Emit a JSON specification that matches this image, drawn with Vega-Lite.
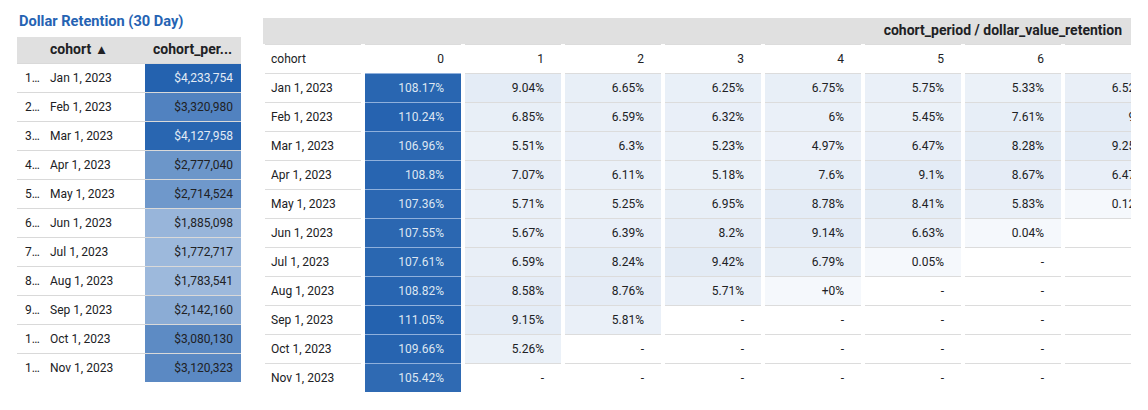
{
  "$schema": "https://vega.github.io/schema/vega-lite/v6.json",
  "background": "white",
  "padding": {"left": 17, "top": 13, "right": 17, "bottom": 5},
  "config": {
    "view": {"stroke": null},
    "font": "Roboto",
    "text": {"font": "Roboto", "fontSize": 12, "color": "#202124"},
    "concat": {"spacing": 0}
  },
  "resolve": {"scale": {"color": "independent"}},
  "datasets": {
    "dollars": [
      {"n": "1…", "c": "Jan 1, 2023", "d": 4233754},
      {"n": "2…", "c": "Feb 1, 2023", "d": 3320980},
      {"n": "3…", "c": "Mar 1, 2023", "d": 4127958},
      {"n": "4…", "c": "Apr 1, 2023", "d": 2777040},
      {"n": "5…", "c": "May 1, 2023", "d": 2714524},
      {"n": "6…", "c": "Jun 1, 2023", "d": 1885098},
      {"n": "7…", "c": "Jul 1, 2023", "d": 1772717},
      {"n": "8…", "c": "Aug 1, 2023", "d": 1783541},
      {"n": "9…", "c": "Sep 1, 2023", "d": 2142160},
      {"n": "1…", "c": "Oct 1, 2023", "d": 3080130},
      {"n": "1…", "c": "Nov 1, 2023", "d": 3120323}
    ],
    "ret": [
      {"c": "Jan 1, 2023", "0": 1.0817, "1": 0.0904, "2": 0.0665, "3": 0.0625, "4": 0.0675, "5": 0.0575, "6": 0.0533, "7": 0.0652},
      {"c": "Feb 1, 2023", "0": 1.1024, "1": 0.0685, "2": 0.0659, "3": 0.0632, "4": 0.06, "5": 0.0545, "6": 0.0761, "7": 0.09},
      {"c": "Mar 1, 2023", "0": 1.0696, "1": 0.0551, "2": 0.063, "3": 0.0523, "4": 0.0497, "5": 0.0647, "6": 0.0828, "7": 0.0925},
      {"c": "Apr 1, 2023", "0": 1.088, "1": 0.0707, "2": 0.0611, "3": 0.0518, "4": 0.076, "5": 0.091, "6": 0.0867, "7": 0.0647},
      {"c": "May 1, 2023", "0": 1.0736, "1": 0.0571, "2": 0.0525, "3": 0.0695, "4": 0.0878, "5": 0.0841, "6": 0.0583, "7": 0.0012},
      {"c": "Jun 1, 2023", "0": 1.0755, "1": 0.0567, "2": 0.0639, "3": 0.082, "4": 0.0914, "5": 0.0663, "6": 0.0004, "7": null},
      {"c": "Jul 1, 2023", "0": 1.0761, "1": 0.0659, "2": 0.0824, "3": 0.0942, "4": 0.0679, "5": 0.0005, "6": null, "7": null},
      {"c": "Aug 1, 2023", "0": 1.0882, "1": 0.0858, "2": 0.0876, "3": 0.0571, "4": 0.000001, "5": null, "6": null, "7": null},
      {"c": "Sep 1, 2023", "0": 1.1105, "1": 0.0915, "2": 0.0581, "3": null, "4": null, "5": null, "6": null, "7": null},
      {"c": "Oct 1, 2023", "0": 1.0966, "1": 0.0526, "2": null, "3": null, "4": null, "5": null, "6": null, "7": null},
      {"c": "Nov 1, 2023", "0": 1.0542, "1": null, "2": null, "3": null, "4": null, "5": null, "6": null, "7": null}
    ]
  },
  "spacing": 22,
  "hconcat": [
    {
      "spacing": 0,
      "vconcat": [
        {"width": 224, "height": 24, "view": {"fill": "white", "stroke": null},
         "data": {"values": [{"t": "Dollar Retention (30 Day)"}]},
         "mark": {"type": "text", "align": "left", "baseline": "alphabetic", "dx": 2, "dy": 1, "fontSize": 14.6, "fontWeight": "bold", "color": "#2563b3"},
         "encoding": {"x": {"field": "t", "type": "nominal", "bandPosition": 0, "scale": {"type": "band", "paddingInner": 0, "paddingOuter": 0}, "axis": null}, "text": {"field": "t"}}},
        {
          "spacing": 0,
          "hconcat": [
            {"width": 28, "height": 26, "view": {"fill": "#e0e0e0", "stroke": null}, "data": {"values": []}, "mark": "rect", "encoding": {}},
            {"width": 100, "height": 26, "view": {"fill": "#e0e0e0", "stroke": null}, "data": {"values": [{"h": "cohort\u00a0\u00a0▴"}]},
             "mark": {"type": "text", "align": "left", "dx": 5, "fontWeight": "bold", "fontSize": 14},
             "encoding": {"x": {"field": "h", "type": "nominal", "bandPosition": 0, "scale": {"type": "band", "paddingInner": 0, "paddingOuter": 0}, "axis": null}, "text": {"field": "h"}}},
            {"width": 96, "height": 26, "view": {"fill": "#e0e0e0", "stroke": null}, "data": {"values": [{"h": "cohort_per..."}]},
             "mark": {"type": "text", "align": "left", "dx": 8, "fontWeight": "bold", "fontSize": 14},
             "encoding": {"x": {"field": "h", "type": "nominal", "bandPosition": 0, "scale": {"type": "band", "paddingInner": 0, "paddingOuter": 0}, "axis": null}, "text": {"field": "h"}}}
          ]
        },
        {
          "spacing": 0,
          "hconcat": [
            {"width": 28, "height": 319, "view": {"fill": "#d9d9d9", "stroke": null}, "data": {"name": "dollars"},
             "transform": [{"fold": ["n"], "as": ["k", "lbl"]}],
             "layer": [
               {"mark": {"type": "rect", "color": "white"}, "encoding": {"y": {"field": "c", "type": "nominal", "sort": null, "scale": {"type": "band", "paddingInner": 0.0345, "paddingOuter": 0.01725, "align": 1}, "axis": null}}},
               {"mark": {"type": "text", "align": "left", "dx": 8},
                "encoding": {"x": {"field": "k", "type": "nominal", "bandPosition": 0, "scale": {"type": "band", "paddingInner": 0, "paddingOuter": 0}, "axis": null},
                             "y": {"field": "c", "type": "nominal", "sort": null, "scale": {"type": "band", "paddingInner": 0.0345, "paddingOuter": 0.01725, "align": 1}, "axis": null},
                             "text": {"field": "lbl"}}}
             ]},
            {"width": 100, "height": 319, "view": {"fill": "#d9d9d9", "stroke": null}, "data": {"name": "dollars"},
             "transform": [{"fold": ["c"], "as": ["k", "lbl"]}],
             "layer": [
               {"mark": {"type": "rect", "color": "white"}, "encoding": {"y": {"field": "c", "type": "nominal", "sort": null, "scale": {"type": "band", "paddingInner": 0.0345, "paddingOuter": 0.01725, "align": 1}, "axis": null}}},
               {"mark": {"type": "text", "align": "left", "dx": 5},
                "encoding": {"x": {"field": "k", "type": "nominal", "bandPosition": 0, "scale": {"type": "band", "paddingInner": 0, "paddingOuter": 0}, "axis": null},
                             "y": {"field": "c", "type": "nominal", "sort": null, "scale": {"type": "band", "paddingInner": 0.0345, "paddingOuter": 0.01725, "align": 1}, "axis": null},
                             "text": {"field": "lbl"}}}
             ]},
            {"width": 96, "height": 319, "view": {"fill": "#d9d9d9", "stroke": null}, "data": {"name": "dollars"},
             "transform": [{"fold": ["d"], "as": ["k", "val"]}],
             "layer": [
               {"mark": {"type": "rect"},
                "encoding": {"y": {"field": "c", "type": "nominal", "sort": null, "scale": {"type": "band", "paddingInner": 0.0345, "paddingOuter": 0.01725, "align": 1}, "axis": null},
                             "color": {"field": "d", "type": "quantitative", "scale": {"domain": [0, 4233754], "range": ["#f5f8fc", "#2462af"], "interpolate": "rgb"}, "legend": null}}},
               {"mark": {"type": "text", "align": "right", "dx": -8},
                "encoding": {"x": {"field": "k", "type": "nominal", "bandPosition": 1, "scale": {"type": "band", "paddingInner": 0, "paddingOuter": 0}, "axis": null},
                             "y": {"field": "c", "type": "nominal", "sort": null, "scale": {"type": "band", "paddingInner": 0.0345, "paddingOuter": 0.01725, "align": 1}, "axis": null},
                             "text": {"field": "d", "type": "quantitative", "format": "$,.0f"},
                             "color": {"condition": {"test": "datum.d > 3900000", "value": "#e3ebf5"}, "value": "#202124"}}}
             ]}
          ]
        }
      ]
    },
    {
      "spacing": 0,
      "vconcat": [
        {"width": 868, "height": 31, "view": {"fill": "white", "stroke": null},
         "data": {"values": [{"h": "cohort_period / dollar_value_retention"}]},
         "layer": [
           {"mark": {"type": "rect", "color": "#e0e0e0"},
            "encoding": {"y": {"field": "h", "type": "nominal", "scale": {"type": "band", "range": [5, 31], "paddingInner": 0, "paddingOuter": 0}, "axis": null}}},
           {"mark": {"type": "text", "align": "right", "dx": -9, "fontWeight": "bold", "fontSize": 14},
            "encoding": {"x": {"field": "h", "type": "nominal", "bandPosition": 1, "scale": {"type": "band", "paddingInner": 0, "paddingOuter": 0}, "axis": null},
                         "y": {"field": "h", "type": "nominal", "scale": {"type": "band", "range": [5, 31], "paddingInner": 0, "paddingOuter": 0}, "axis": null},
                         "text": {"field": "h"}}}
         ]},
        {
          "width": 868, "height": 348,
          "view": {"fill": "white", "stroke": null},
          "data": {"name": "ret"},
          "transform": [{"fold": ["c", "0", "1", "2", "3", "4", "5", "6", "7"], "as": ["p", "v"]}],
          "layer": [
            {"transform": [{"filter": "datum.c === 'Jan 1, 2023'"}],
             "mark": {"type": "rect", "clip": true, "color": "#dcdcdc"},
             "encoding": {"x": {"field": "p", "type": "nominal", "scale": {"type": "band", "domain": ["c", "0", "1", "2", "3", "4", "5", "6", "7"], "range": [2, 898], "paddingInner": 0.04, "paddingOuter": 0}, "axis": null}}},
            {"transform": [{"filter": "datum.p === '0'"}],
             "mark": {"type": "rect", "clip": true, "color": "#8fb0dc", "height": {"band": 1.0715}},
             "encoding": {"x": {"field": "p", "type": "nominal", "scale": {"type": "band", "domain": ["c", "0", "1", "2", "3", "4", "5", "6", "7"], "range": [2, 898], "paddingInner": 0.04, "paddingOuter": 0}, "axis": null},
                          "y": {"field": "c", "type": "nominal", "scale": {"type": "band", "domain": ["header", "Jan 1, 2023", "Feb 1, 2023", "Mar 1, 2023", "Apr 1, 2023", "May 1, 2023", "Jun 1, 2023", "Jul 1, 2023", "Aug 1, 2023", "Sep 1, 2023", "Oct 1, 2023", "Nov 1, 2023"], "paddingInner": 0.0345, "paddingOuter": 0.01725, "align": 1}, "axis": null}}},
            {"mark": {"type": "rect", "clip": true, "color": "white"},
             "encoding": {"x": {"field": "p", "type": "nominal", "scale": {"type": "band", "domain": ["c", "0", "1", "2", "3", "4", "5", "6", "7"], "range": [2, 898], "paddingInner": 0.04, "paddingOuter": 0}, "axis": null},
                          "y": {"field": "c", "type": "nominal", "scale": {"type": "band", "domain": ["header", "Jan 1, 2023", "Feb 1, 2023", "Mar 1, 2023", "Apr 1, 2023", "May 1, 2023", "Jun 1, 2023", "Jul 1, 2023", "Aug 1, 2023", "Sep 1, 2023", "Oct 1, 2023", "Nov 1, 2023"], "paddingInner": 0.0345, "paddingOuter": 0.01725, "align": 1}, "axis": null}}},
            {"transform": [{"filter": "datum.p !== 'c' && datum.v != null"}],
             "mark": {"type": "rect", "clip": true},
             "encoding": {"x": {"field": "p", "type": "nominal", "scale": {"type": "band", "domain": ["c", "0", "1", "2", "3", "4", "5", "6", "7"], "range": [2, 898], "paddingInner": 0.04, "paddingOuter": 0}, "axis": null},
                          "y": {"field": "c", "type": "nominal", "scale": {"type": "band", "domain": ["header", "Jan 1, 2023", "Feb 1, 2023", "Mar 1, 2023", "Apr 1, 2023", "May 1, 2023", "Jun 1, 2023", "Jul 1, 2023", "Aug 1, 2023", "Sep 1, 2023", "Oct 1, 2023", "Nov 1, 2023"], "paddingInner": 0.0345, "paddingOuter": 0.01725, "align": 1}, "axis": null},
                          "color": {"field": "v", "type": "quantitative", "scale": {"domain": [0, 1.1105], "range": ["#f5f8fc", "#2462af"], "interpolate": "rgb"}, "legend": null}}},
            {"transform": [{"filter": "datum.c === 'Jan 1, 2023'"}],
             "mark": {"type": "rect", "clip": true, "color": "white"},
             "encoding": {"x": {"field": "p", "type": "nominal", "scale": {"type": "band", "domain": ["c", "0", "1", "2", "3", "4", "5", "6", "7"], "range": [2, 898], "paddingInner": 0.04, "paddingOuter": 0}, "axis": null},
                          "y": {"datum": "header", "type": "nominal", "scale": {"type": "band", "domain": ["header", "Jan 1, 2023", "Feb 1, 2023", "Mar 1, 2023", "Apr 1, 2023", "May 1, 2023", "Jun 1, 2023", "Jul 1, 2023", "Aug 1, 2023", "Sep 1, 2023", "Oct 1, 2023", "Nov 1, 2023"], "paddingInner": 0.0345, "paddingOuter": 0.01725, "align": 1}, "axis": null}}},
            {"transform": [{"filter": "datum.p !== 'c'"}],
             "mark": {"type": "text", "align": "right", "dx": -17, "clip": true},
             "encoding": {"x": {"field": "p", "type": "nominal", "bandPosition": 1, "scale": {"type": "band", "domain": ["c", "0", "1", "2", "3", "4", "5", "6", "7"], "range": [2, 898], "paddingInner": 0.04, "paddingOuter": 0}, "axis": null},
                          "y": {"field": "c", "type": "nominal", "scale": {"type": "band", "domain": ["header", "Jan 1, 2023", "Feb 1, 2023", "Mar 1, 2023", "Apr 1, 2023", "May 1, 2023", "Jun 1, 2023", "Jul 1, 2023", "Aug 1, 2023", "Sep 1, 2023", "Oct 1, 2023", "Nov 1, 2023"], "paddingInner": 0.0345, "paddingOuter": 0.01725, "align": 1}, "axis": null},
                          "text": {"condition": [{"test": "datum.v == null", "value": "-"}, {"test": "datum.v < 0.00005", "value": "+0%"}], "field": "v", "type": "quantitative", "format": ".2~%"},
                          "color": {"condition": {"test": "datum.p === '0' && datum.v != null", "value": "#dde6f2"}, "value": "#202124"}}},
            {"transform": [{"filter": "datum.p === 'c'"}],
             "mark": {"type": "text", "align": "left", "dx": 6, "clip": true},
             "encoding": {"x": {"field": "p", "type": "nominal", "bandPosition": 0, "scale": {"type": "band", "domain": ["c", "0", "1", "2", "3", "4", "5", "6", "7"], "range": [2, 898], "paddingInner": 0.04, "paddingOuter": 0}, "axis": null},
                          "y": {"field": "c", "type": "nominal", "scale": {"type": "band", "domain": ["header", "Jan 1, 2023", "Feb 1, 2023", "Mar 1, 2023", "Apr 1, 2023", "May 1, 2023", "Jun 1, 2023", "Jul 1, 2023", "Aug 1, 2023", "Sep 1, 2023", "Oct 1, 2023", "Nov 1, 2023"], "paddingInner": 0.0345, "paddingOuter": 0.01725, "align": 1}, "axis": null},
                          "text": {"field": "v"}}},
            {"transform": [{"filter": "datum.c === 'Jan 1, 2023' && datum.p !== 'c'"}],
             "mark": {"type": "text", "align": "right", "dx": -17, "clip": true},
             "encoding": {"x": {"field": "p", "type": "nominal", "bandPosition": 1, "scale": {"type": "band", "domain": ["c", "0", "1", "2", "3", "4", "5", "6", "7"], "range": [2, 898], "paddingInner": 0.04, "paddingOuter": 0}, "axis": null},
                          "y": {"datum": "header", "type": "nominal", "scale": {"type": "band", "domain": ["header", "Jan 1, 2023", "Feb 1, 2023", "Mar 1, 2023", "Apr 1, 2023", "May 1, 2023", "Jun 1, 2023", "Jul 1, 2023", "Aug 1, 2023", "Sep 1, 2023", "Oct 1, 2023", "Nov 1, 2023"], "paddingInner": 0.0345, "paddingOuter": 0.01725, "align": 1}, "axis": null},
                          "text": {"field": "p"}}},
            {"transform": [{"filter": "datum.c === 'Jan 1, 2023' && datum.p === 'c'"}],
             "mark": {"type": "text", "align": "left", "dx": 6, "clip": true},
             "encoding": {"x": {"field": "p", "type": "nominal", "bandPosition": 0, "scale": {"type": "band", "domain": ["c", "0", "1", "2", "3", "4", "5", "6", "7"], "range": [2, 898], "paddingInner": 0.04, "paddingOuter": 0}, "axis": null},
                          "y": {"datum": "header", "type": "nominal", "scale": {"type": "band", "domain": ["header", "Jan 1, 2023", "Feb 1, 2023", "Mar 1, 2023", "Apr 1, 2023", "May 1, 2023", "Jun 1, 2023", "Jul 1, 2023", "Aug 1, 2023", "Sep 1, 2023", "Oct 1, 2023", "Nov 1, 2023"], "paddingInner": 0.0345, "paddingOuter": 0.01725, "align": 1}, "axis": null},
                          "text": {"datum": "cohort"}}}
          ]
        }
      ]
    }
  ]
}
